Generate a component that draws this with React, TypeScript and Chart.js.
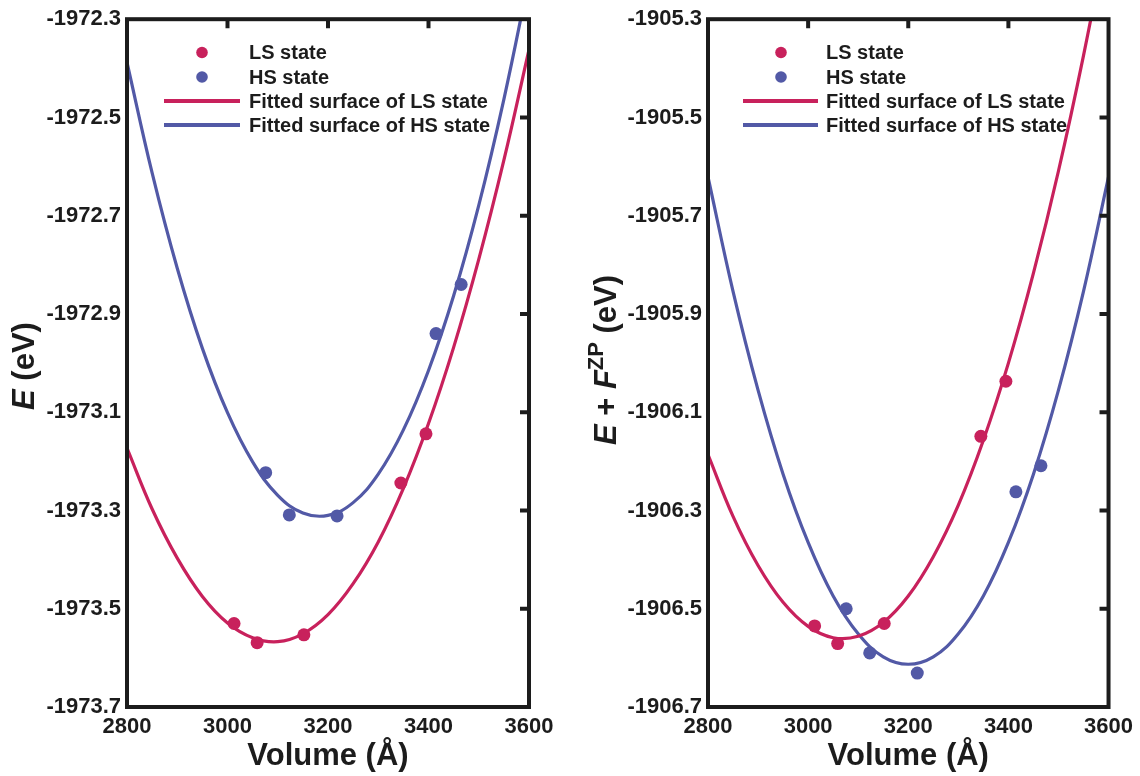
import React, { useEffect, useRef } from "react";
import { Chart, registerables } from "chart.js";

Chart.register(...registerables);

// ---------- data ----------
const xTickValues = [2800, 3000, 3200, 3400, 3600];
const yTicksLeft = [-1972.3, -1972.5, -1972.7, -1972.9, -1973.1, -1973.3, -1973.5, -1973.7];
const yTicksRight = [-1905.3, -1905.5, -1905.7, -1905.9, -1906.1, -1906.3, -1906.5, -1906.7];

const lsVolumes = [3013, 3059, 3152, 3345, 3395];
const hsVolumes = [3076, 3123, 3218, 3415, 3465];

// left panel: E (eV)
const lsEnergy = [-1973.53, -1973.569, -1973.553, -1973.244, -1973.144];
const hsEnergy = [-1973.223, -1973.309, -1973.311, -1972.94, -1972.84];

// right panel: E + F^ZP (eV)
const lsFreeEnergy = [-1906.535, -1906.571, -1906.53, -1906.149, -1906.037];
const hsFreeEnergy = [-1906.5, -1906.59, -1906.631, -1906.262, -1906.209];

// fitted curves
const fitVolumes = [2800, 2850, 2900, 2950, 3000, 3050, 3100, 3150, 3200, 3250, 3300, 3350, 3400, 3450, 3500, 3550, 3600];
const lsFitEnergy = [-1973.173, -1973.297, -1973.397, -1973.475, -1973.529, -1973.559, -1973.567, -1973.551, -1973.512, -1973.449, -1973.364, -1973.255, -1973.123, -1972.968, -1972.789, -1972.587, -1972.362];
const hsFitEnergy = [-1972.388, -1972.613, -1972.807, -1972.97, -1973.101, -1973.201, -1973.269, -1973.305, -1973.31, -1973.284, -1973.226, -1973.136, -1973.015, -1972.863, -1972.679, -1972.463, -1972.217];
const lsFitFree = [-1906.186, -1906.312, -1906.412, -1906.487, -1906.536, -1906.559, -1906.556, -1906.528, -1906.474, -1906.394, -1906.289, -1906.157, -1906.0, -1905.817, -1905.609, -1905.374, -1905.114];
const hsFitFree = [-1905.621, -1905.854, -1906.055, -1906.226, -1906.365, -1906.474, -1906.551, -1906.598, -1906.613, -1906.598, -1906.551, -1906.474, -1906.365, -1906.226, -1906.055, -1905.854, -1905.621];

const seriesLabels = ["LS state", "HS state", "Fitted surface of LS state", "Fitted surface of HS state"];

// ---------- style ----------
const LS_COLOR = "#C8215C";
const HS_COLOR = "#5259A6";
const INK = "#1c1c1c";
const FAMILY = "'Liberation Sans', Arial, Helvetica, sans-serif";

type Seg = { text: string; italic?: boolean; sup?: boolean };

const pairs = (xs: number[], ys: number[]) => xs.map((x, i) => ({ x, y: ys[i] }));

const framePlugin = {
  id: "frame",
  afterDatasetsDraw(chart: any) {
    const { ctx, chartArea } = chart;
    const { left, right, top, bottom } = chartArea;
    const xs = chart.scales.x;
    const ys = chart.scales.y;
    ctx.save();
    ctx.strokeStyle = INK;
    ctx.lineWidth = 4;
    ctx.lineCap = "butt";
    ctx.beginPath();
    xs.ticks.forEach((t: any) => {
      const px = xs.getPixelForValue(t.value);
      if (px > left + 3 && px < right - 3) {
        ctx.moveTo(px, top);
        ctx.lineTo(px, top + 9);
      }
    });
    ys.ticks.forEach((t: any) => {
      const py = ys.getPixelForValue(t.value);
      if (py > top + 3 && py < bottom - 3) {
        ctx.moveTo(right, py);
        ctx.lineTo(right - 9, py);
      }
    });
    ctx.stroke();
    ctx.strokeRect(left, top, right - left, bottom - top);
    ctx.restore();
  },
};

const legendPlugin = {
  id: "customLegend",
  afterDraw(chart: any) {
    const { ctx, chartArea } = chart;
    const opts = chart.options.plugins.customLegend || {};
    const markerX = chartArea.left + (opts.markerDx ?? 75);
    const lineX0 = chartArea.left + (opts.lineDx0 ?? 37);
    const lineX1 = chartArea.left + (opts.lineDx1 ?? 113);
    const textX = chartArea.left + (opts.textDx ?? 122);
    const rows = [52.5, 77, 101, 125];
    ctx.save();
    ctx.font = `bold 20px ${FAMILY}`;
    ctx.textBaseline = "middle";
    ctx.textAlign = "left";
    chart.data.datasets.forEach((ds: any, i: number) => {
      const y = rows[i];
      if (ds.showLine === false) {
        ctx.fillStyle = ds.backgroundColor;
        ctx.beginPath();
        ctx.arc(markerX, y, 5.8, 0, Math.PI * 2);
        ctx.fill();
      } else {
        ctx.strokeStyle = ds.borderColor;
        ctx.lineWidth = 4;
        ctx.beginPath();
        ctx.moveTo(lineX0, y);
        ctx.lineTo(lineX1, y);
        ctx.stroke();
      }
      ctx.fillStyle = INK;
      ctx.fillText(ds.label, textX, y + 1);
    });
    ctx.restore();
  },
};

const yTitlePlugin = {
  id: "yTitle",
  afterDraw(chart: any) {
    const opts = chart.options.plugins.yTitle;
    if (!opts) return;
    const segs: Seg[] = opts.segments;
    const { ctx } = chart;
    const mainFont = (it?: boolean) => `${it ? "italic " : ""}bold 31px ${FAMILY}`;
    const supFont = `bold 22px ${FAMILY}`;
    ctx.save();
    ctx.translate(opts.x, opts.y);
    ctx.rotate(-Math.PI / 2);
    ctx.fillStyle = INK;
    ctx.textBaseline = "alphabetic";
    ctx.textAlign = "left";
    let total = 0;
    const widths = segs.map((s) => {
      ctx.font = s.sup ? supFont : mainFont(s.italic);
      const w = ctx.measureText(s.text).width;
      total += w;
      return w;
    });
    let x = -total / 2;
    segs.forEach((s, i) => {
      ctx.font = s.sup ? supFont : mainFont(s.italic);
      ctx.fillText(s.text, x, s.sup ? -2 : 11);
      x += widths[i];
    });
    ctx.restore();
  },
};

type PanelProps = {
  left: number;
  yTicks: number[];
  lsPts: number[];
  hsPts: number[];
  lsFit: number[];
  hsFit: number[];
  plotLeft: number;
  rightPad: number;
  titleSegs: Seg[];
  titleX: number;
  titleY: number;
  legend: { markerDx: number; lineDx0: number; lineDx1: number; textDx: number };
};

function Panel(p: PanelProps) {
  const ref = useRef<HTMLCanvasElement | null>(null);
  useEffect(() => {
    if (!ref.current) return;
    const yMin = Math.min(...p.yTicks);
    const yMax = Math.max(...p.yTicks);
    const fitStyle = {
      showLine: true,
      borderWidth: 3.2,
      pointRadius: 0,
      pointHoverRadius: 0,
      tension: 0.4,
    };
    const chart = new Chart(ref.current, {
      type: "scatter",
      data: {
        datasets: [
          {
            label: seriesLabels[0],
            data: pairs(lsVolumes, p.lsPts),
            showLine: false,
            backgroundColor: LS_COLOR,
            borderColor: LS_COLOR,
            borderWidth: 0,
            pointRadius: 6.5,
            pointHoverRadius: 6.5,
          },
          {
            label: seriesLabels[1],
            data: pairs(hsVolumes, p.hsPts),
            showLine: false,
            backgroundColor: HS_COLOR,
            borderColor: HS_COLOR,
            borderWidth: 0,
            pointRadius: 6.5,
            pointHoverRadius: 6.5,
          },
          {
            label: seriesLabels[2],
            data: pairs(fitVolumes, p.lsFit),
            borderColor: LS_COLOR,
            backgroundColor: LS_COLOR,
            ...fitStyle,
          },
          {
            label: seriesLabels[3],
            data: pairs(fitVolumes, p.hsFit),
            borderColor: HS_COLOR,
            backgroundColor: HS_COLOR,
            ...fitStyle,
          },
        ],
      },
      options: {
        animation: false,
        responsive: false,
        maintainAspectRatio: false,
        devicePixelRatio: 1,
        events: [],
        layout: { padding: { left: 0, right: p.rightPad, top: 16, bottom: 0 } },
        plugins: {
          legend: { display: false },
          tooltip: { enabled: false },
          customLegend: p.legend,
          yTitle: { segments: p.titleSegs, x: p.titleX, y: p.titleY },
        } as any,
        scales: {
          x: {
            type: "linear",
            min: xTickValues[0],
            max: xTickValues[xTickValues.length - 1],
            grid: { display: false, drawTicks: false },
            border: { display: false },
            afterBuildTicks: (axis: any) => {
              axis.ticks = xTickValues.map((v) => ({ value: v }));
            },
            afterFit: (axis: any) => {
              axis.height = 69;
            },
            ticks: {
              autoSkip: false,
              maxRotation: 0,
              padding: 7,
              color: INK,
              font: { family: FAMILY, size: 22, weight: "bold" },
              callback: (v: any) => String(v),
            },
            title: {
              display: true,
              text: "Volume (Å)",
              color: INK,
              font: { family: FAMILY, size: 31, weight: "bold" },
              padding: { top: 0, bottom: 1 },
            },
          },
          y: {
            type: "linear",
            min: yMin,
            max: yMax,
            grid: { display: false, drawTicks: false },
            border: { display: false },
            afterBuildTicks: (axis: any) => {
              axis.ticks = p.yTicks.map((v) => ({ value: v }));
            },
            afterFit: (axis: any) => {
              axis.width = p.plotLeft;
            },
            ticks: {
              autoSkip: false,
              padding: 6,
              color: INK,
              font: { family: FAMILY, size: 22, weight: "bold" },
              callback: (v: any) => Number(v).toFixed(1),
            },
          },
        },
      },
      plugins: [framePlugin, legendPlugin, yTitlePlugin],
    } as any);
    return () => chart.destroy();
  }, []);
  return (
    <canvas
      ref={ref}
      width={570}
      height={776}
      style={{ position: "absolute", left: p.left, top: 0, width: 570, height: 776 }}
    />
  );
}

export default function App() {
  return (
    <div style={{ position: "absolute", left: 0, top: 0, width: 1140, height: 776, background: "#fff" }}>
      <Panel
        left={0}
        yTicks={yTicksLeft}
        lsPts={lsEnergy}
        hsPts={hsEnergy}
        lsFit={lsFitEnergy}
        hsFit={hsFitEnergy}
        plotLeft={127}
        rightPad={41}
        titleSegs={[{ text: "E", italic: true }, { text: " (eV)" }]}
        titleX={23}
        titleY={366}
        legend={{ markerDx: 75, lineDx0: 37, lineDx1: 113, textDx: 122 }}
      />
      <Panel
        left={570}
        yTicks={yTicksRight}
        lsPts={lsFreeEnergy}
        hsPts={hsFreeEnergy}
        lsFit={lsFitFree}
        hsFit={hsFitFree}
        plotLeft={138}
        rightPad={30}
        titleSegs={[
          { text: "E", italic: true },
          { text: " + " },
          { text: "F", italic: true },
          { text: "ZP", sup: true },
          { text: " (eV)" },
        ]}
        titleX={35}
        titleY={360}
        legend={{ markerDx: 73, lineDx0: 35, lineDx1: 110, textDx: 118 }}
      />
    </div>
  );
}
